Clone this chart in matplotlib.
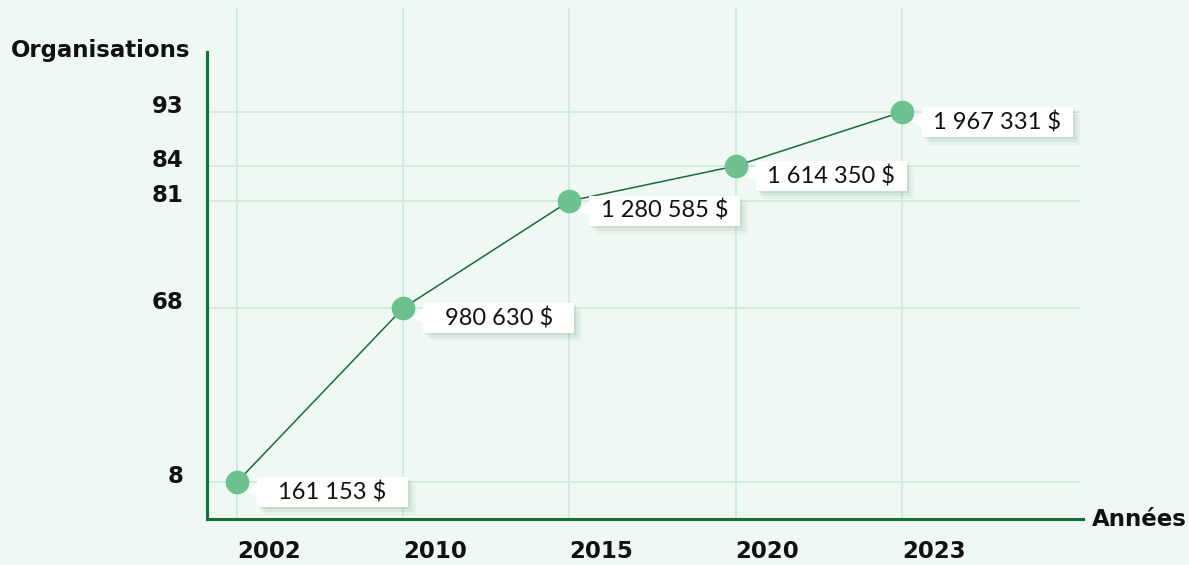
import numpy as np
import matplotlib.pyplot as plt
from matplotlib.patches import Rectangle, Polygon
from matplotlib.transforms import ScaledTranslation
import matplotlib.patheffects as pe

# data
years = ['2002', '2010', '2015', '2020', '2023']
organisations = [8, 68, 81, 84, 93]
amounts = ['161 153 $', '980 630 $', '1 280 585 $', '1 614 350 $', '1 967 331 $']

# the y axis in the source is not linear: screen height (px from bottom) of each tick
y_ticks = [8, 68, 81, 84, 93]
y_screen = [83, 257, 364, 399, 453]

BG = '#eff8f3'
GRID = '#cfeadb'
DARK = '#1c6b3b'
DOT = '#6cc18f'
INK = '#111111'

plt.rcParams['font.family'] = ['DejaVu Sans']


def _knots():
    lo = (y_screen[1] - y_screen[0]) / (y_ticks[1] - y_ticks[0])
    hi = (y_screen[-1] - y_screen[-2]) / (y_ticks[-1] - y_ticks[-2])
    xs = [y_ticks[0] - 1000] + y_ticks + [y_ticks[-1] + 1000]
    ys = [y_screen[0] - 1000 * lo] + y_screen + [y_screen[-1] + 1000 * hi]
    return xs, ys


def fwd(v):
    xs, ys = _knots()
    return np.interp(np.asarray(v, dtype=float), xs, ys)


def inv(p):
    xs, ys = _knots()
    return np.interp(np.asarray(p, dtype=float), ys, xs)


def main():
    fig = plt.figure(figsize=(11.89, 5.65), dpi=100, facecolor=BG)
    ax = fig.add_axes([207 / 1189, 46 / 565, (1083 - 207) / 1189, (557 - 46) / 565])
    ax.set_facecolor(BG)
    ax.set_yscale('function', functions=(fwd, inv))

    x = np.arange(len(years))
    ax.set_xlim(-30 / 166, len(years) - 1 + 181 / 166)
    ax.set_ylim(inv(46), inv(557))

    # grid
    for xi in x:
        ax.axvline(xi, color=GRID, lw=1.3, zorder=0)
    for yv in y_ticks:
        ax.axhline(yv, color=GRID, lw=1.3, zorder=0, xmax=0.995)

    # spines
    for s in ['top', 'right']:
        ax.spines[s].set_visible(False)
    for s in ['left', 'bottom']:
        ax.spines[s].set_color(DARK)
        ax.spines[s].set_linewidth(2.2)
    ax.spines['left'].set_bounds(inv(46), inv(513))

    ax.set_xticks(x)
    ax.set_xticklabels(years)
    ax.set_yticks(y_ticks)
    ax.set_yticklabels([str(v) for v in y_ticks])
    ax.tick_params(length=0, labelsize=16.5, colors=INK)
    ax.tick_params(axis='x', pad=15)
    ax.tick_params(axis='y', pad=17)
    up = ScaledTranslation(0, 8 / 100, fig.dpi_scale_trans)
    for lab in ax.get_yticklabels():
        lab.set_fontweight('bold')
        lab.set_transform(lab.get_transform() + up)
    for lab in ax.get_xticklabels():
        lab.set_fontweight('bold')
        lab.set_horizontalalignment('left')

    # line + points
    ax.plot(x, organisations, color=DARK, lw=1.1, zorder=3)
    ax.plot(x, organisations, 'o', color=DOT, ms=16, zorder=4)

    # value labels (white boxes with soft shadow), sized in pixels next to each point
    shadow = [pe.withSimplePatchShadow(offset=(1.5, -1.5), shadow_rgbFace='#3d7a55', alpha=0.10),
              pe.withSimplePatchShadow(offset=(3.5, -3.5), shadow_rgbFace='#3d7a55', alpha=0.08),
              pe.withSimplePatchShadow(offset=(5.5, -5.5), shadow_rgbFace='#3d7a55', alpha=0.05),
              pe.Normal()]
    for xi, yv, txt in zip(x, organisations, amounts):
        tr = fig.dpi_scale_trans + ScaledTranslation(xi, yv, ax.transData)
        box = Rectangle((0.20, -0.25), 1.51, 0.30, transform=tr, facecolor='white',
                        edgecolor='none', zorder=5)
        box.set_path_effects(shadow)
        ax.add_patch(box)
        tri = Polygon([(0.205, 0.0), (0.205, -0.15), (0.09, -0.10)], closed=True,
                      transform=tr, facecolor='white', edgecolor='none', zorder=5)
        ax.add_patch(tri)
        ax.text(0.955, -0.10, txt, transform=tr, ha='center', va='center',
                fontsize=17, family='Lato', color=INK, zorder=6)

    fig.text(190 / 1189, 1 - 51 / 565, 'Organisations', ha='right', va='center',
             fontsize=16.5, fontweight='bold', color=INK)
    fig.text(1092 / 1189, 1 - 519 / 565, 'Années', ha='left', va='center',
             fontsize=16.5, fontweight='bold', color=INK)

    fig.savefig('out.png', dpi=100, facecolor=BG)


if __name__ == "__main__":
    main()
